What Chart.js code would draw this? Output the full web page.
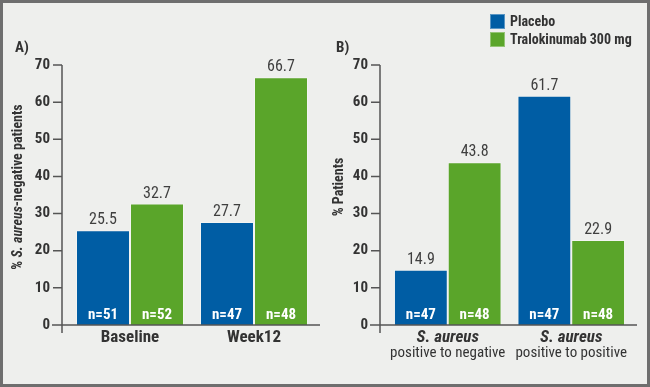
<!DOCTYPE html>
<html>
<head>
<meta charset="utf-8">
<script src="https://cdn.jsdelivr.net/npm/chart.js@4.4.1/dist/chart.umd.min.js"></script>
<style>
  html, body { margin: 0; padding: 0; background: #eeefed; }
  #frame { position: absolute; left: 0; top: 0; width: 650px; height: 387px; box-sizing: border-box;
           border: 3px solid #6e6e6e; background: #eeefed; }
  canvas { position: absolute; top: 0; }
  #chartA { left: 0; }
  #chartB { left: 325px; }
</style>
</head>
<body>
<div id="frame"></div>
<canvas id="chartA" width="330" height="387"></canvas>
<canvas id="chartB" width="325" height="387"></canvas>
<script>
const seriesNames = ['Placebo', 'Tralokinumab 300 mg'];
const seriesColors = ['#005da4', '#5aa52a'];

const panelALabels = ['Baseline', 'Week12'];
const panelAPlacebo = [25.5, 27.7];
const panelATralo = [32.7, 66.7];
const panelAPlaceboN = [51, 47];
const panelATraloN = [52, 48];

const panelBLabels = [['S. aureus', 'positive to negative'], ['S. aureus', 'positive to positive']];
const panelBPlacebo = [14.9, 61.7];
const panelBTralo = [43.8, 22.9];
const panelBPlaceboN = [47, 47];
const panelBTraloN = [48, 48];

const yMin = 0, yMax = 70, yStep = 10;

const FONT = '"Liberation Sans Narrow", "Roboto Condensed", "DejaVu Sans Condensed", sans-serif';
const TEXT = '#333333';
const AXIS = '#555555';

// draws axes, labels, titles and the legend around the bars
const panelDecor = {
  id: 'panelDecor',
  afterDatasetsDraw(chart, args, opts) {
    const ctx = chart.ctx;
    const area = chart.chartArea;
    const yScale = chart.scales.y;
    const xScale = chart.scales.x;
    const axisX = area.left - 6;
    ctx.save();

    // value labels above bars, n= inside bars
    chart.data.datasets.forEach((ds, di) => {
      const meta = chart.getDatasetMeta(di);
      meta.data.forEach((bar, i) => {
        ctx.textAlign = 'center';
        ctx.textBaseline = 'alphabetic';
        ctx.fillStyle = '#3f3f3f';
        ctx.font = '16px ' + FONT;
        ctx.fillText(ds.data[i].toFixed(1), bar.x, bar.y - 6);
        ctx.fillStyle = '#ffffff';
        ctx.font = 'bold 15px ' + FONT;
        ctx.fillText('n=' + ds.counts[i], bar.x, area.bottom - 6);
      });
    });

    // axis lines and ticks
    ctx.strokeStyle = AXIS;
    ctx.lineWidth = 1.5;
    ctx.beginPath();
    ctx.moveTo(axisX, area.top);
    ctx.lineTo(axisX, area.bottom + 8);
    ctx.moveTo(axisX - 10, area.bottom);
    ctx.lineTo(area.right + 4, area.bottom);
    yScale.ticks.forEach(t => {
      const y = yScale.getPixelForValue(t.value);
      ctx.moveTo(axisX - 9, y);
      ctx.lineTo(axisX, y);
    });
    ctx.stroke();

    // category labels
    ctx.fillStyle = TEXT;
    ctx.textAlign = 'center';
    chart.data.labels.forEach((lab, i) => {
      const x = xScale.getPixelForValue(i);
      if (Array.isArray(lab)) {
        ctx.font = 'italic bold 17px ' + FONT;
        ctx.fillText(lab[0], x, area.bottom + 17);
        ctx.font = '15px ' + FONT;
        ctx.fillText(lab[1], x, area.bottom + 32);
      } else {
        ctx.font = 'bold 17px ' + FONT;
        ctx.fillText(lab, x, area.bottom + 17);
      }
    });

    // y title with mixed styles
    ctx.save();
    ctx.translate(opts.titleX, 187);
    ctx.rotate(-Math.PI / 2);
    ctx.textBaseline = 'middle';
    ctx.textAlign = 'left';
    const parts = opts.title;
    let total = 0;
    parts.forEach(p => {
      ctx.font = (p.italic ? 'italic ' : '') + 'bold 14px ' + FONT;
      total += ctx.measureText(p.text).width;
    });
    let cx = -total / 2;
    parts.forEach(p => {
      ctx.font = (p.italic ? 'italic ' : '') + 'bold 14px ' + FONT;
      ctx.fillText(p.text, cx, 0);
      cx += ctx.measureText(p.text).width;
    });
    ctx.restore();

    // panel letter
    ctx.font = 'bold 15px ' + FONT;
    ctx.textAlign = 'left';
    ctx.textBaseline = 'alphabetic';
    ctx.fillText(opts.letter, opts.letterX, 52);

    // legend
    if (opts.legend) {
      chart.data.datasets.forEach((ds, di) => {
        const y = 14 + di * 18;
        ctx.fillStyle = ds.backgroundColor;
        ctx.fillRect(opts.legendX, y, 15, 15);
        ctx.strokeStyle = 'rgba(255,255,255,0.35)';
        ctx.lineWidth = 1;
        ctx.strokeRect(opts.legendX + 0.5, y + 0.5, 14, 14);
        ctx.fillStyle = TEXT;
        ctx.font = 'bold 14px ' + FONT;
        ctx.textBaseline = 'middle';
        ctx.fillText(ds.label, opts.legendX + 20, y + 8);
      });
    }
    ctx.restore();
  }
};

function makeChart(id, labels, placebo, tralo, placeboN, traloN, padRight, axisWidth, decor) {
  return new Chart(document.getElementById(id), {
    type: 'bar',
    data: {
      labels: labels,
      datasets: [
        { label: seriesNames[0], data: placebo, counts: placeboN, backgroundColor: seriesColors[0],
          borderColor: 'rgba(255,255,255,0.3)', borderWidth: 1, borderSkipped: 'bottom' },
        { label: seriesNames[1], data: tralo, counts: traloN, backgroundColor: seriesColors[1],
          borderColor: 'rgba(255,255,255,0.3)', borderWidth: 1, borderSkipped: 'bottom' }
      ]
    },
    options: {
      responsive: false,
      animation: false,
      devicePixelRatio: 1,
      layout: { padding: { top: 65, right: padRight, left: 0, bottom: 0 } },
      datasets: { bar: { categoryPercentage: 108 / 124, barPercentage: 1 } },
      plugins: {
        legend: { display: false },
        tooltip: { enabled: false },
        panelDecor: decor
      },
      scales: {
        x: {
          grid: { display: false, drawTicks: false },
          border: { display: false },
          ticks: { display: false },
          afterFit: s => { s.height = 62; }
        },
        y: {
          min: yMin, max: yMax,
          grid: { display: false, drawTicks: false },
          border: { display: false },
          ticks: { stepSize: yStep, padding: 18, color: TEXT, font: { family: FONT, size: 15, weight: 'bold' } },
          afterFit: s => { s.width = axisWidth; }
        }
      }
    },
    plugins: [panelDecor]
  });
}

makeChart('chartA', panelALabels, panelAPlacebo, panelATralo, panelAPlaceboN, panelATraloN, 14, 68, {
  letter: 'A)', letterX: 15, titleX: 18,
  title: [{ text: '% ' }, { text: 'S. aureus', italic: true }, { text: '-negative patients' }]
});

makeChart('chartB', panelBLabels, panelBPlacebo, panelBTralo, panelBPlaceboN, panelBTraloN, 17, 61, {
  letter: 'B)', letterX: 11, titleX: 14, legend: true, legendX: 165,
  title: [{ text: '% Patients' }]
});
</script>
</body>
</html>
